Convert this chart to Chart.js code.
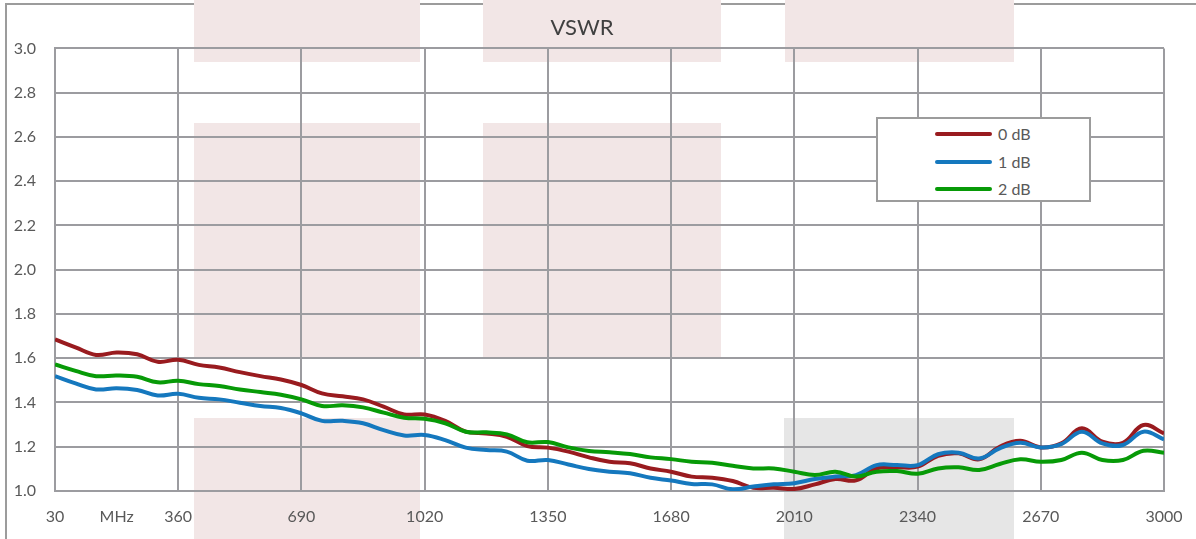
<!DOCTYPE html>
<html>
<head>
<meta charset="utf-8">
<title>VSWR</title>
<script src="https://cdn.jsdelivr.net/npm/chart.js@4.4.1/dist/chart.umd.min.js"></script>
<style>
    body { margin: 0; background: #fff; }
    #wrap { position: relative; width: 1196px; height: 539px; overflow: hidden; font-family: Lato, sans-serif; }
    .frame { position: absolute; left: 5px; top: 3px; width: 1300px; height: 700px; border: 2px solid #9c9c9c; }
    .pad { position: absolute; background: #f2e6e6; }
    .pad.grey { background: #e6e6e6; }
    #chart { position: absolute; left: 0; top: 0; }
    #legend { position: absolute; left: 876px; top: 117px; width: 211px; height: 81px; border: 2px solid #9c9c9c; background: #fff; }
    #legend .item { position: absolute; left: 57px; height: 20px; font-size: 16px; color: #595959; }
    #legend .swatch { position: absolute; left: 0; top: 8px; width: 57px; height: 4px; border-radius: 2px; }
    #legend .lbl { position: absolute; left: 63px; top: 0; line-height: 20px; white-space: nowrap; }
</style>
</head>
<body>
<div id="wrap">
    <div class="frame"></div>
    <div class="pad" style="left:194px;top:0;width:226px;height:62px"></div>
    <div class="pad" style="left:483px;top:0;width:238px;height:62px"></div>
    <div class="pad" style="left:785px;top:0;width:229px;height:62px"></div>
    <div class="pad" style="left:194px;top:123px;width:226px;height:234px"></div>
    <div class="pad" style="left:483px;top:123px;width:238px;height:234px"></div>
    <div class="pad" style="left:194px;top:418px;width:226px;height:121px"></div>
    <div class="pad grey" style="left:784px;top:418px;width:230px;height:121px"></div>
    <canvas id="chart" width="1196" height="539"></canvas>
    <div id="legend"></div>
</div>
<script>
// Frequenzen (MHz), Schritt 55 MHz
const freqs = [30, 85, 140, 195, 250, 305, 360, 415, 470, 525, 580, 635, 690, 745, 800, 855, 910, 965,
    1020, 1075, 1130, 1185, 1240, 1295, 1350, 1405, 1460, 1515, 1570, 1625, 1680, 1735, 1790, 1845, 1900, 1955,
    2010, 2065, 2120, 2175, 2230, 2285, 2340, 2395, 2450, 2505, 2560, 2615, 2670, 2725, 2780, 2835, 2890, 2945, 3000];

const vswr0dB = [1.685, 1.649, 1.615, 1.626, 1.618, 1.584, 1.593, 1.570, 1.558, 1.537, 1.519, 1.504, 1.479, 1.441,
    1.428, 1.414, 1.381, 1.346, 1.346, 1.317, 1.268, 1.260, 1.245, 1.203, 1.196, 1.178, 1.152, 1.132, 1.125, 1.102,
    1.087, 1.065, 1.060, 1.045, 1.015, 1.015, 1.009, 1.030, 1.054, 1.048, 1.102, 1.107, 1.110, 1.159, 1.170, 1.143,
    1.200, 1.227, 1.197, 1.215, 1.283, 1.223, 1.218, 1.298, 1.260];

const vswr1dB = [1.519, 1.486, 1.459, 1.464, 1.456, 1.432, 1.439, 1.421, 1.414, 1.399, 1.384, 1.375, 1.351, 1.317,
    1.317, 1.306, 1.275, 1.251, 1.253, 1.230, 1.196, 1.185, 1.178, 1.137, 1.140, 1.120, 1.099, 1.087, 1.080, 1.060,
    1.047, 1.032, 1.030, 1.008, 1.020, 1.030, 1.035, 1.054, 1.065, 1.072, 1.117, 1.117, 1.117, 1.166, 1.173, 1.147,
    1.193, 1.218, 1.197, 1.212, 1.268, 1.215, 1.208, 1.268, 1.233];

const vswr2dB = [1.572, 1.543, 1.519, 1.522, 1.516, 1.491, 1.498, 1.483, 1.474, 1.459, 1.447, 1.435, 1.414, 1.384,
    1.387, 1.378, 1.354, 1.331, 1.326, 1.306, 1.268, 1.265, 1.256, 1.220, 1.221, 1.197, 1.181, 1.175, 1.167, 1.152,
    1.144, 1.132, 1.128, 1.114, 1.102, 1.102, 1.087, 1.072, 1.087, 1.065, 1.087, 1.090, 1.078, 1.102, 1.107, 1.095,
    1.122, 1.143, 1.132, 1.140, 1.173, 1.140, 1.140, 1.182, 1.173];

const seriesNames = ['0 dB', '1 dB', '2 dB'];
const seriesColors = ['#991b1f', '#1578be', '#079a07'];

// Achsenbeschriftung
const xTicks = [30, 195, 360, 690, 1020, 1350, 1680, 2010, 2340, 2670, 3000];
const xUnitTick = 195;
const xUnitLabel = 'MHz';

const gridColor = '#9c9ca0';
const textColor = '#595959';

const allValues = [vswr0dB, vswr1dB, vswr2dB];

const datasets = allValues.map((vals, i) => ({
    label: seriesNames[i],
    data: freqs.map((f, k) => ({ x: f, y: vals[k] })),
    borderColor: seriesColors[i],
    backgroundColor: seriesColors[i],
    borderWidth: 4,
    pointRadius: 0,
    tension: 0.4,
    fill: false,
    order: 3 - i
}));

new Chart(document.getElementById('chart').getContext('2d'), {
    type: 'line',
    data: { datasets: datasets },
    options: {
        responsive: false,
        animation: false,
        layout: { padding: { left: 0, right: 32, top: 0, bottom: 0 } },
        plugins: {
            legend: { display: false },
            tooltip: { enabled: false },
            title: {
                display: true,
                text: 'VSWR',
                color: '#404040',
                font: { family: 'Lato', size: 22, weight: 'normal' },
                padding: { top: 15, bottom: 7 }
            }
        },
        scales: {
            x: {
                type: 'linear',
                min: 30,
                max: 3000,
                afterBuildTicks: function(scale) {
                    scale.ticks = xTicks.map(v => ({ value: v }));
                },
                afterFit: function(scale) {
                    scale.height = 48;
                    scale.paddingLeft = 0;
                    scale.paddingRight = 0;
                },
                ticks: {
                    color: textColor,
                    font: { family: 'Lato', size: 16 },
                    padding: 16,
                    maxRotation: 0,
                    autoSkip: false,
                    callback: function(v) { return v === xUnitTick ? xUnitLabel : String(v); }
                },
                grid: {
                    color: function(ctx) {
                        return ctx.tick && ctx.tick.value === xUnitTick ? 'rgba(0,0,0,0)' : gridColor;
                    },
                    lineWidth: 2,
                    drawTicks: false
                },
                border: { color: gridColor, width: 2 }
            },
            y: {
                min: 1,
                max: 3,
                afterFit: function(scale) { scale.width = 55; },
                ticks: {
                    stepSize: 0.2,
                    color: textColor,
                    font: { family: 'Lato', size: 16 },
                    padding: 19,
                    callback: function(v) { return v.toFixed(1); }
                },
                grid: { color: gridColor, lineWidth: 2, drawTicks: false },
                border: { color: gridColor, width: 2 }
            }
        }
    }
});

// Legende
const legend = document.getElementById('legend');
seriesNames.forEach((name, i) => {
    const item = document.createElement('div');
    item.className = 'item';
    item.style.top = (5 + i * 27.5) + 'px';
    item.innerHTML = `<span class="swatch" style="background:${seriesColors[i]}"></span><span class="lbl">${name}</span>`;
    legend.appendChild(item);
});
</script>
</body>
</html>
